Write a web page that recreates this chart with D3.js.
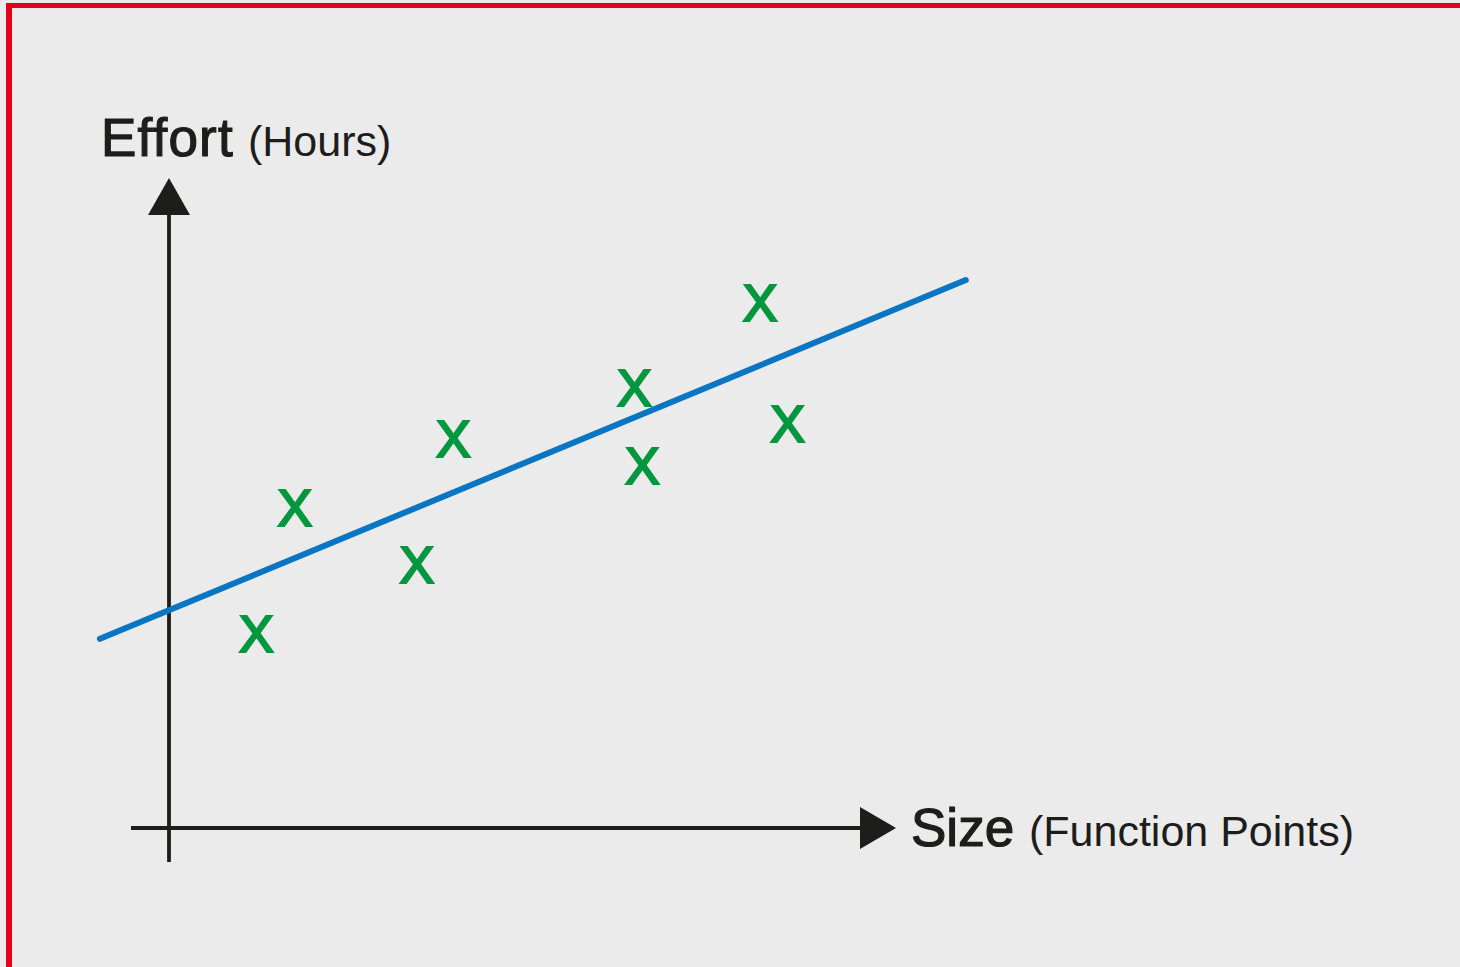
<!DOCTYPE html>
<html>
<head>
<meta charset="utf-8">
<script src="https://cdn.jsdelivr.net/npm/d3@7"></script>
<style>
  html, body { margin: 0; padding: 0; background: #ebebeb; }
  svg { display: block; }
</style>
</head>
<body>
<svg id="chart" width="1460" height="967"></svg>
<script>
// ---- data ----
const sizeValues   = [12.0, 17.3, 34.1, 39.1, 64.0, 65.1, 81.3, 85.1];   // Size (Function Points)
const effortValues = [30.0, 49.4, 40.6, 60.0, 67.8, 55.8, 80.9, 62.3];   // Effort (Hours)
const trendSize    = [-9.5, 109.6];
const trendEffort  = [29.1, 84.3];
const xTitle = ["Size", "(Function Points)"];
const yTitle = ["Effort", "(Hours)"];
const markerGlyph = "X";

// ---- layout ----
const svg = d3.select("#chart");
const W = 1460, H = 967;
const x = d3.scaleLinear().domain([0, 100]).range([169, 896]);
const y = d3.scaleLinear().domain([0, 100]).range([828, 178]);

svg.append("rect").attr("x", 0).attr("y", 0).attr("width", W).attr("height", H).attr("fill", "#ebebeb");
// red frame (top + left visible)
svg.append("rect").attr("x", 6).attr("y", 3).attr("width", W - 6).attr("height", 5).attr("fill", "#e2001a");
svg.append("rect").attr("x", 6).attr("y", 3).attr("width", 6).attr("height", H - 3).attr("fill", "#e2001a");

const ink = "#1d1d1b";

// axes
const axisG = svg.append("g");
axisG.append("line")
  .attr("x1", x(0)).attr("x2", x(0))
  .attr("y1", y(0) + 34).attr("y2", y(100) + 30)
  .attr("stroke", ink).attr("stroke-width", 3.8);
axisG.append("line")
  .attr("x1", x(0) - 38).attr("x2", x(100) - 30)
  .attr("y1", y(0)).attr("y2", y(0))
  .attr("stroke", ink).attr("stroke-width", 3.8);
// arrowheads
axisG.append("path")
  .attr("d", `M${x(0)},${y(100)} L${x(0) + 21},${y(100) + 37} L${x(0) - 21},${y(100) + 37} Z`)
  .attr("fill", ink);
axisG.append("path")
  .attr("d", `M${x(100)},${y(0)} L${x(100) - 36},${y(0) - 21} L${x(100) - 36},${y(0) + 21} Z`)
  .attr("fill", ink);

// trend line
const line = d3.line().x(d => x(d[0])).y(d => y(d[1]));
svg.append("path")
  .datum(d3.zip(trendSize, trendEffort))
  .attr("d", line)
  .attr("fill", "none")
  .attr("stroke", "#0a75c2")
  .attr("stroke-width", 6)
  .attr("stroke-linecap", "round");

// markers
svg.append("g").selectAll("text")
  .data(d3.zip(sizeValues, effortValues))
  .join("text")
  .attr("x", d => x(d[0]))
  .attr("y", d => y(d[1]) + 19)
  .attr("text-anchor", "middle")
  .attr("font-family", "'Liberation Sans', Arial, sans-serif")
  .attr("font-size", 52)
  .attr("fill", "#00973f")
  .attr("stroke", "#00973f")
  .attr("stroke-width", 2.2)
  .text(markerGlyph);

// titles
const font = "'Liberation Sans', Arial, Helvetica, sans-serif";
function title(tx, ty, parts, sx, ls) {
  svg.append("text").attr("x", tx).attr("y", ty)
    .attr("font-family", font).attr("font-size", 53)
    .attr("letter-spacing", ls)
    .attr("fill", ink).attr("stroke", ink).attr("stroke-width", 1.2)
    .text(parts[0]);
  svg.append("text").attr("x", sx).attr("y", ty)
    .attr("font-family", font).attr("font-size", 43)
    .attr("fill", ink)
    .text(parts[1]);
}
title(101, 156, yTitle, 248, 1.2);
title(911, 846, xTitle, 1029, 0);
</script>
</body>
</html>
